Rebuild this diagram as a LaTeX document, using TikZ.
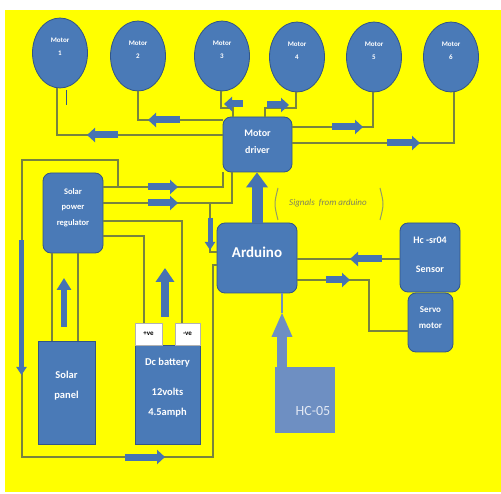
\documentclass[tikz,border=0pt]{standalone}
\usepackage{fontspec}
\setmainfont{Carlito}
\usetikzlibrary{shapes.geometric,arrows.meta}
\definecolor{bgyellow}{RGB}{255,255,0}
\definecolor{nodeblue}{RGB}{74,122,183}
\definecolor{edgeblue}{RGB}{50,85,135}
\definecolor{hcblue}{RGB}{110,143,194}
\definecolor{hctext}{RGB}{225,232,244}
\definecolor{wirec}{RGB}{120,132,62}
\definecolor{arrowblue}{RGB}{70,115,178}
\definecolor{sigc}{RGB}{125,128,95}
\begin{document}
\begin{tikzpicture}[x=1pt,y=-1pt,
  motor/.style={ellipse, fill=nodeblue, draw=edgeblue, line width=0.8pt, minimum width=55pt, minimum height=70pt, inner sep=0pt},
  box/.style={rectangle, rounded corners=8pt, fill=nodeblue, draw=edgeblue, line width=0.8pt, inner sep=0pt},
  sqbox/.style={box, rounded corners=0pt},
  term/.style={rectangle, fill=white, draw=gray!60, line width=0.4pt, inner sep=0pt, minimum height=22pt, font=\bfseries\fontsize{7}{8}\selectfont},
  wtext/.style={text=white, font=\bfseries, align=center, inner sep=0pt},
  wire/.style={draw=wirec, line width=1.8pt},
  sigline/.style={draw=wirec!80, line width=1pt},
  barrow/.style={draw=arrowblue, line width=7pt, -{Triangle[length=8pt,width=14pt]}},
  thinarrow/.style={draw=arrowblue, line width=5pt, -{Triangle[length=8pt,width=10pt]}},
  uparrow/.style={draw=arrowblue, line width=8pt, -{Triangle[length=14pt,width=18pt]}},
  bigarrow/.style={draw=arrowblue, line width=11pt, -{Triangle[length=15pt,width=21pt]}},
  hcarrow/.style={draw=hcblue, line width=10pt, -{Triangle[length=25pt,width=19pt]}}
]
\useasboundingbox (0,0) rectangle (501,494);
\fill[white] (0,0) rectangle (501,494);
\fill[bgyellow] (5,10) rectangle (501,492);

% motors
\node[motor] (m1) at (60,53) {};
\node[motor] (m2) at (138,56) {};
\node[motor] (m3) at (222,56) {};
\node[motor] (m4) at (297,57) {};
\node[motor] (m5) at (374,57) {};
\node[motor] (m6) at (451,57) {};
\foreach \m/\n in {m1/1,m2/2,m3/3,m4/4,m5/5,m6/6}{
  \node[wtext, font=\bfseries\fontsize{7}{13}\selectfont] (\m t) at ([yshift=6pt]\m.center) {Motor\\\n};
}

% boxes
\node[box, minimum width=69pt, minimum height=55pt] (drv) at (257.5,144.5) {};
\node[wtext, font=\bfseries\fontsize{10}{17}\selectfont] (drvt) at ([yshift=3pt]drv.center) {Motor\\driver};

\node[box, minimum width=60pt, minimum height=80pt] (reg) at (73,213) {};
\node[wtext, font=\bfseries\fontsize{8.5}{15.5}\selectfont] (regt) at ([yshift=5.5pt]reg.center) {Solar\\power\\regulator};

\node[box, minimum width=80pt, minimum height=70pt] (ard) at (257,258) {};
\node[wtext, font=\bfseries\fontsize{15}{18}\selectfont] (ardt) at ([yshift=6pt]ard.center) {Arduino};

\node[box, minimum width=60pt, minimum height=69pt] (sen) at (430,257.5) {};
\node[wtext, font=\bfseries\fontsize{10}{29}\selectfont] (sent) at ([yshift=3pt]sen.center) {Hc -sr04\\Sensor};

\node[box, minimum width=45pt, minimum height=59pt] (servo) at (430.5,322.5) {};
\node[wtext, font=\bfseries\fontsize{9}{16}\selectfont] (servot) at ([yshift=5pt]servo.center) {Servo\\motor};

\node[sqbox, minimum width=57pt, minimum height=103pt] (panel) at (66.5,392.5) {};
\node[wtext, font=\bfseries\fontsize{10.5}{20}\selectfont] (panelt) at ([yshift=6.5pt]panel.center) {Solar\\panel};

\node[sqbox, minimum width=65pt, minimum height=99pt] (batt) at (167.5,394.5) {};
\node[wtext, font=\bfseries\fontsize{10.5}{20}\selectfont] (battt1) at (167.5,363) {Dc battery};
\node[wtext, font=\bfseries\fontsize{10.5}{20}\selectfont] (battt2) at (167.5,403) {12volts\\4.5amph};
\node[term, minimum width=27pt] (pos) at (148.5,334) {+ve};
\node[term, minimum width=25pt] (neg) at (187.5,334) {-ve};

\node[rectangle, fill=hcblue, minimum width=60pt, minimum height=66pt, inner sep=0pt] (hc) at (305,400) {};
\node[text=hctext, font=\fontsize{14}{16}\selectfont, inner sep=0pt] (hct) at (313,411) {HC-05};

% signals label
\node[text=sigc, font=\itshape\fontsize{9}{11}\selectfont, inner sep=0pt] (sig) at (328,203) {Signals\ \ from arduino};
\draw[sigline] (278,188) .. controls (274,204) .. (278,220);
\draw[sigline] (380,188) .. controls (384,204) .. (380,220);

% junction coordinates
\coordinate (j1) at (118,187);
\coordinate (j2) at (210,203);

% wires motors
\draw[wire] (m1.south -| 57,0) |- (drv.west |- 0,135);
\draw[wire] (m2.south) |- (drv.west |- 0,120);
\draw[wire] (m3.south -| 221,0) |- (233,108) -- (drv.north -| 233,0);
\draw[wire] (m4.south -| 296,0) |- (265,108) -- (drv.north -| 265,0);
\draw[wire] (drv.east |- 0,127) -| (m5.south -| 373,0);
\draw[wire] (drv.east |- 0,143) -| (m6.south -| 454,0);
\draw[draw=edgeblue, line width=1pt] (66,90) -- (66,105);

% regulator to driver
\draw[wire] (reg.east |- 0,187) -| (drv.south -| 223,0);
\draw[wire] (reg.east |- 0,203) -| (drv.south -| 232,0);
% loop
\draw[wire] (j1) |- (22,160) -- (22,457) -| (213,265) -- (ard.west |- 0,265);
\draw[wire] (j2) |- (ard.west |- 0,252);
% regulator to battery
\draw[wire] (reg.east |- 0,221) -| (neg.north -| 182,0);
\draw[wire] (reg.east |- 0,236) -| (pos.north -| 144,0);
% regulator to panel
\draw[wire] (reg.south -| 52,0) -- (panel.north -| 52,0);
\draw[wire] (reg.south -| 78,0) -- (panel.north -| 78,0);
% sensor, servo
\draw[wire] (sen.west |- 0,259) -- (ard.east |- 0,259);
\draw[wire] (ard.east |- 0,280) -- (369,280) |- (servo.west |- 0,331);
% HC-05 line
\draw[draw=hcblue, line width=2pt] (282,313) -- (ard.south -| 282,0);

% block arrows
\draw[barrow] (118,135) -- (87,135);
\draw[barrow] (180,120) -- (148,120);
\draw[barrow] (243,104) -- (224,104);
\draw[barrow] (267,105) -- (289,105);
\draw[barrow] (332,127) -- (363,127);
\draw[barrow] (387,143) -- (420,143);
\draw[barrow] (148,187) -- (178,187);
\draw[barrow] (148,203) -- (178,203);
\draw[thinarrow] (210,218) -- (210,250);
\draw[barrow] (382,259) -- (350,259);
\draw[barrow] (326,280) -- (350,280);
\draw[thinarrow] (21.5,240) -- (21.5,375);
\draw[barrow] (125,457) -- (165,457);
\draw[draw=arrowblue, line width=6pt, -{Triangle[length=12pt,width=14pt]}] (64,327) -- (64,278);
\draw[uparrow] (165,317) -- (165,268);
\draw[bigarrow] (ard.north -| 257,0) -- (drv.south -| 257,0);
\draw[hcarrow] (hc.north -| 282,0) -- (282,312);
\end{tikzpicture}
\end{document}
